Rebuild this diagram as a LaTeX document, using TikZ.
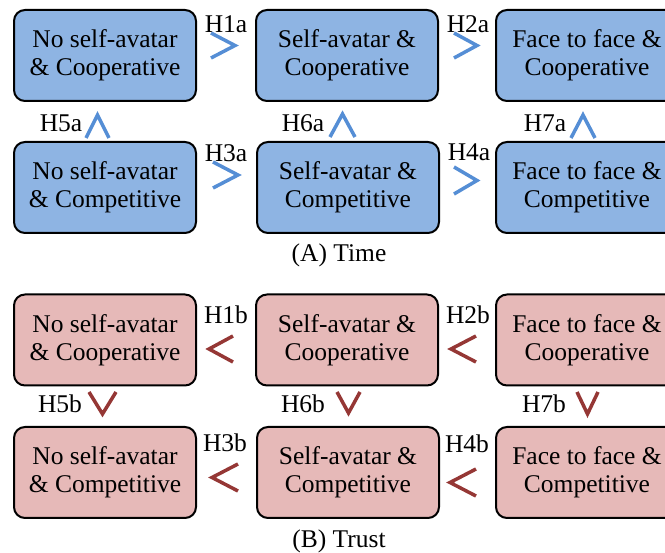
\documentclass[tikz,border=0pt]{standalone}
\usepackage{fontspec}
\setmainfont{Liberation Serif}
\definecolor{timefill}{HTML}{8EB4E3}
\definecolor{trustfill}{HTML}{E6B9B8}
\definecolor{timemark}{HTML}{558ED5}
\definecolor{trustmark}{HTML}{953735}
\tikzset{
  cond/.style={draw=black, line width=2pt, rounded corners=11pt, minimum width=182pt,
    minimum height=91pt, inner sep=0pt, align=center, font=\fontsize{25.5}{28}\selectfont},
  hyp/.style={anchor=base, inner sep=0pt, font=\fontsize{25.5}{28}\selectfont},
  timerel/.style={draw=timemark, line width=3.5pt},
  trustrel/.style={draw=trustmark, line width=3.5pt},
}
\begin{document}
\begin{tikzpicture}[x=1pt, y=-1pt]
    \useasboundingbox (0,0) rectangle (665,553);
    \clip (0,0) rectangle (665,553);

    % (A) Time
    \node[cond, fill=timefill] (tnoco) at (105,55.5) {No self-avatar\\\& Cooperative};
    \node[cond, fill=timefill] (tselfco) at (347,55.5) {Self-avatar \&\\Cooperative};
    \node[cond, fill=timefill] (tfaceco) at (587,55.5) {Face to face \&\\Cooperative};
    \node[cond, fill=timefill] (tnocomp) at (105,187.5) {No self-avatar\\\& Competitive};
    \node[cond, fill=timefill] (tselfcomp) at (348,187.5) {Self-avatar \&\\Competitive};
    \node[cond, fill=timefill] (tfacecomp) at (587,187.5) {Face to face \&\\Competitive};

    % relations between the rows and columns
    \draw[timerel] (211,33) -- (235,45.5) -- (211,58);
    \node[hyp] (h1a) at (226,33) {H1a};
    \draw[timerel] (454,33) -- (477,45.5) -- (454,58);
    \node[hyp] (h2a) at (468,33) {H2a};
    \draw[timerel] (213,162) -- (238,175) -- (213,188);
    \node[hyp] (h3a) at (226,162) {H3a};
    \draw[timerel] (454,167) -- (477,180.5) -- (454,194);
    \node[hyp] (h4a) at (469,161) {H4a};
    \draw[timerel] (86,138) -- (97.5,115) -- (109,138);
    \node[hyp] (h5a) at (61,132) {H5a};
    \draw[timerel] (330,137) -- (342.5,114) -- (355,137);
    \node[hyp] (h6a) at (303,132) {H6a};
    \draw[timerel] (571,138) -- (583,115) -- (595,138);
    \node[hyp] (h7a) at (545,132) {H7a};

    \node[hyp] (capa) at (339,262) {(A) Time};

    % (B) Trust
    \node[cond, fill=trustfill] (rnoco) at (105,340) {No self-avatar\\\& Cooperative};
    \node[cond, fill=trustfill] (rselfco) at (347,340) {Self-avatar \&\\Cooperative};
    \node[cond, fill=trustfill] (rfaceco) at (587,340) {Face to face \&\\Cooperative};
    \node[cond, fill=trustfill] (rnocomp) at (105,472.5) {No self-avatar\\\& Competitive};
    \node[cond, fill=trustfill] (rselfcomp) at (348,472.5) {Self-avatar \&\\Competitive};
    \node[cond, fill=trustfill] (rfacecomp) at (587,472.5) {Face to face \&\\Competitive};

    % relations between the rows and columns
    \draw[trustrel] (233,336) -- (209,349) -- (233,362);
    \node[hyp] (h1b) at (226,324) {H1b};
    \draw[trustrel] (476,336) -- (451,349) -- (476,362);
    \node[hyp] (h2b) at (468,324) {H2b};
    \draw[trustrel] (238,464) -- (212,477.5) -- (238,491);
    \node[hyp] (h3b) at (225,452) {H3b};
    \draw[trustrel] (476,469) -- (450,482.5) -- (476,496);
    \node[hyp] (h4b) at (467,453) {H4b};
    \draw[trustrel] (89,392) -- (102.5,414) -- (116,392);
    \node[hyp] (h5b) at (60,413) {H5b};
    \draw[trustrel] (337,392) -- (348.5,413) -- (360,392);
    \node[hyp] (h6b) at (303,413) {H6b};
    \draw[trustrel] (577,392) -- (587.5,414) -- (598,392);
    \node[hyp] (h7b) at (544,413) {H7b};

    \node[hyp] (capb) at (339,548) {(B) Trust};
\end{tikzpicture}
\end{document}
